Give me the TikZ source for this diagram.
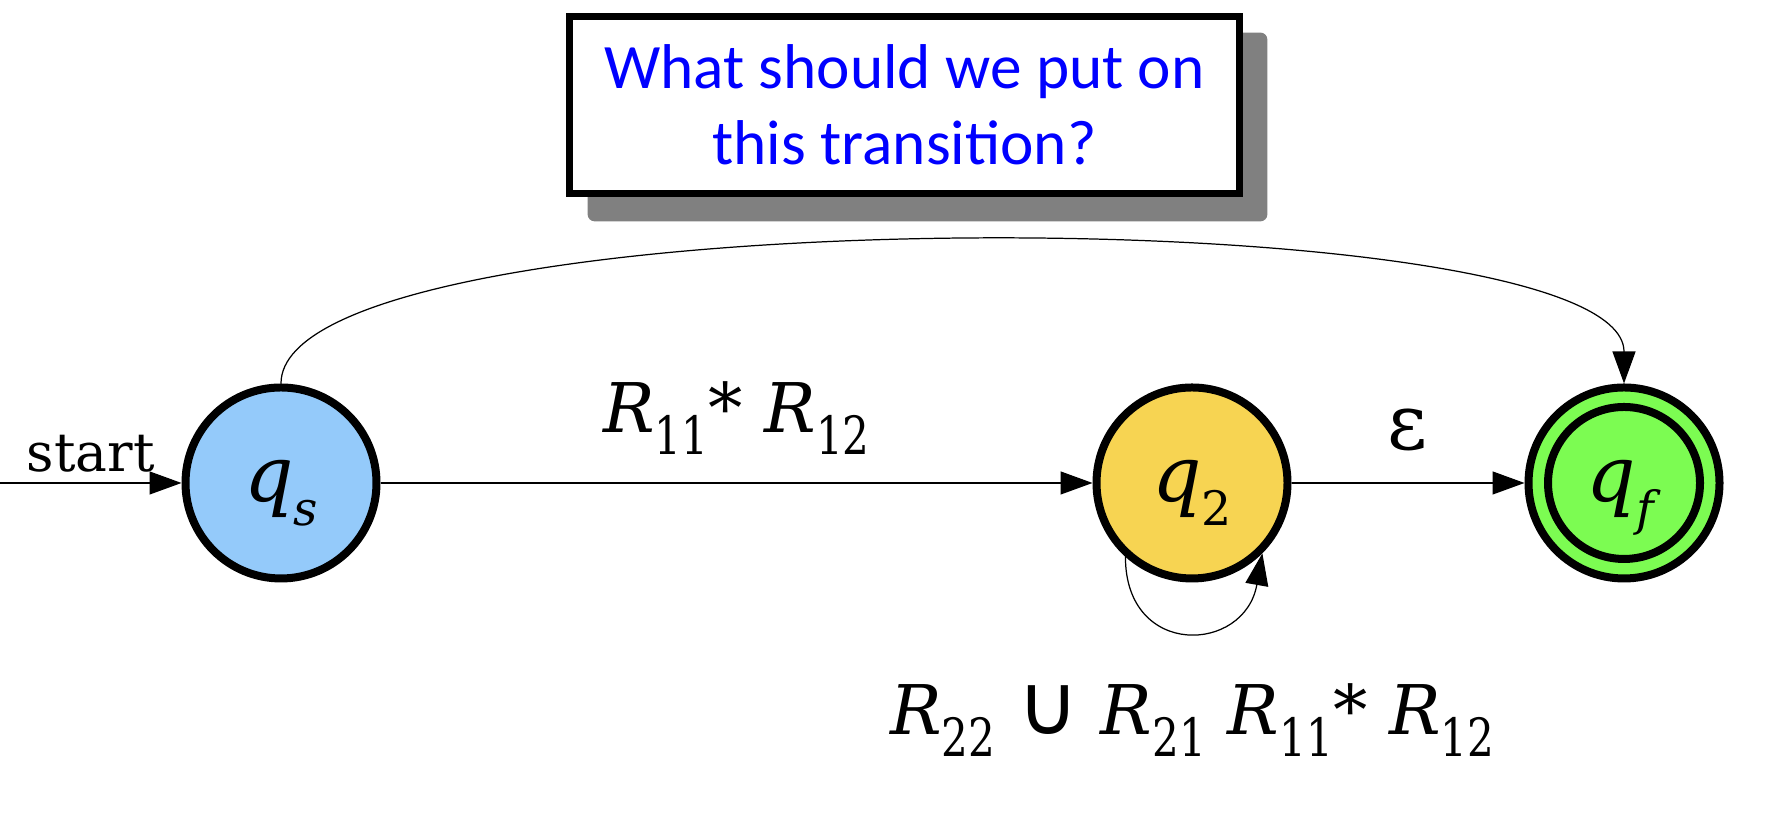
\documentclass[tikz,border=0pt]{standalone}
\usepackage{fontspec}
\setmainfont{DejaVu Serif}
\newfontfamily\handfont{Carlito}
\newfontfamily\opfont{DejaVu Sans}
\usetikzlibrary{arrows.meta,backgrounds}

\definecolor{qsblue}{RGB}{148,202,250}
\definecolor{qyellow}{RGB}{247,212,82}
\definecolor{qfgreen}{RGB}{124,252,82}

% state names and regex symbols with lowered indices
\newcommand\stq[1]{\textit{q}\raisebox{-0.31em}{\fontsize{13.5}{14}\selectfont #1}}
\newcommand\Rs[1]{\textit{R}\raisebox{-0.32em}{\scalebox{0.8}[1]{\fontsize{15}{15}\selectfont #1}}}

\begin{document}
\begin{tikzpicture}[
    state/.style={circle, draw, line width=0.08cm, minimum size=1.91cm, inner sep=0pt,
      text height=0.38cm, text depth=0pt, font=\fontsize{22}{26}\selectfont},
    edge/.style={-{Triangle[length=0.32cm,width=0.23cm]}, line width=0.35pt},
    lbl/.style={inner sep=0pt, font=\fontsize{19.5}{23}\selectfont}
  ]
  \useasboundingbox (0,0) rectangle (17.9,8.24);

  % Question box with its shadow
  \node[draw, line width=0.078cm, fill=white, minimum width=6.7cm, minimum height=1.77cm,
    align=center, text=blue, font=\handfont\fontsize{18}{21.6}\selectfont]
    (box) at (9.045,7.19) {What should we put on\\this transition?};
  \begin{scope}[on background layer]
    \fill[gray, rounded corners=2pt] ([shift={(0.22,-0.20)}]box.north west)
      rectangle ([shift={(0.24,-0.24)}]box.south east);
  \end{scope}

  % States
  \node[state, fill=qsblue] (qs) at (2.81,3.41) {\stq{\textit{s}}};
  \node[state, fill=qyellow] (q2) at (11.92,3.41) {\stq{2}};
  \node[state, fill=qfgreen] (qf) at (16.24,3.41) {\stq{\textit{f}}};
  \draw[line width=0.08cm] (qf.center) circle (0.76);

  % Start arrow
  \coordinate (start) at (0,3.41);
  \draw[edge] (start) -- node[midway, above=0.1cm, inner sep=0pt,
    font=\fontsize{15.2}{18}\selectfont] {start} (qs);

  % Transitions
  \draw[edge] (qs) -- node[lbl, above=0.28cm] {\Rs{11}* \Rs{12}} (q2);
  \draw[edge] (q2) -- node[lbl, above=0.31cm, font=\fontsize{22}{26}\selectfont] {ε} (qf);
  \draw[edge] (q2.228) to[out=-90, in=-100, looseness=1.9]
    node[lbl, below=0.52cm, xshift=0.05cm] {\Rs{22} {\opfont\fontsize{24}{26}\selectfont ∪} \Rs{21} \Rs{11}* \Rs{12}} (q2.-45);
  \draw[edge] (qs.north) to[out=90, in=90, looseness=0.36] (qf.north);
\end{tikzpicture}
\end{document}
